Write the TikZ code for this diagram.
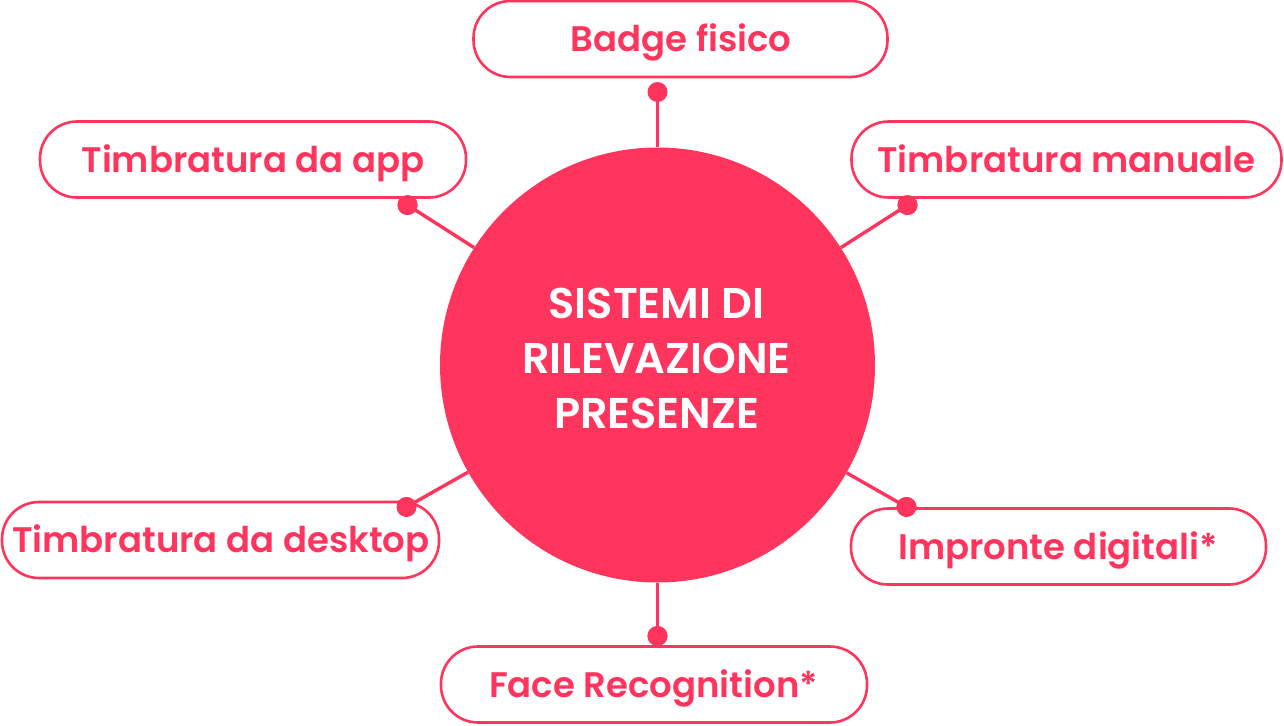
\documentclass[tikz,border=0pt]{standalone}
\usepackage{fontspec}
\setmainfont{Poppins}[BoldFont={Poppins SemiBold}]
\newfontfamily\hubfont{Poppins}[UprightFont={* SemiBold}]
\definecolor{rosso}{HTML}{FF355E}
\begin{document}
\begin{tikzpicture}[x=1pt,y=-1pt,
 pill/.style={draw=rosso,line width=2.6pt,rounded corners=37pt,fill=white,minimum height=76pt},
 lab/.style={text=rosso,font=\fontsize{35.5}{40}\selectfont\bfseries,inner sep=0pt,anchor=base},
 conn/.style={draw=rosso,line width=3.4pt},
 dot/.style={circle,fill=rosso,minimum size=20pt,inner sep=0pt},
 hub/.style={circle,fill=rosso,minimum size=435pt,inner sep=0pt},
 hubt/.style={text=white,font=\fontsize{43}{46}\hubfont,inner sep=0pt,anchor=base}]
\useasboundingbox (0,0) rectangle (1284,725);
\node[hub] (c) at (657.5,365) {};
\node[hubt] (t1) at (656.5,318) {SISTEMI DI};
\node[hubt] (t2) at (656.5,373) {RILEVAZIONE};
\node[hubt] (t3) at (656.5,428) {PRESENZE};
\node[dot] (d1) at (657.5,92) {};
\node[dot] (d2) at (407.5,205) {};
\node[dot] (d3) at (907.5,205) {};
\node[dot] (d4) at (406.5,507) {};
\node[dot] (d5) at (906.5,507) {};
\node[dot] (d6) at (657.5,636) {};
\draw[conn] (d1.center) -- (c);
\draw[conn] (d2.center) -- (c);
\draw[conn] (d3.center) -- (c);
\draw[conn] (d4.center) -- (c);
\draw[conn] (d5.center) -- (c);
\draw[conn] (d6.center) -- (c);
\node[pill,minimum width=414pt] (b1) at (680.5,39) {};
\node[pill,minimum width=426pt] (b2) at (253,159.5) {};
\node[pill,minimum width=430pt] (b3) at (1066.5,159.5) {};
\node[pill,minimum width=437pt] (b4) at (220.5,540) {};
\node[pill,minimum width=415pt] (b5) at (1058.5,546.5) {};
\node[pill,minimum width=426pt] (b6) at (654,684.5) {};
\node[lab] (l1) at (681,51.5) {Badge fisico};
\node[lab] (l2) at (253,172.5) {Timbratura da app};
\node[lab] (l3) at (1066.5,172.5) {Timbratura manuale};
\node[lab] (l4) at (221,552.5) {Timbratura da desktop};
\node[lab] (l5) at (1058,559.5) {Impronte digitali*};
\node[lab] (l6) at (653.5,697.5) {Face Recognition*};
\node[dot] at (d2) {};
\node[dot] at (d3) {};
\node[dot] at (d4) {};
\node[dot] at (d5) {};
\node[dot] at (d6) {};
\end{tikzpicture}
\end{document}
